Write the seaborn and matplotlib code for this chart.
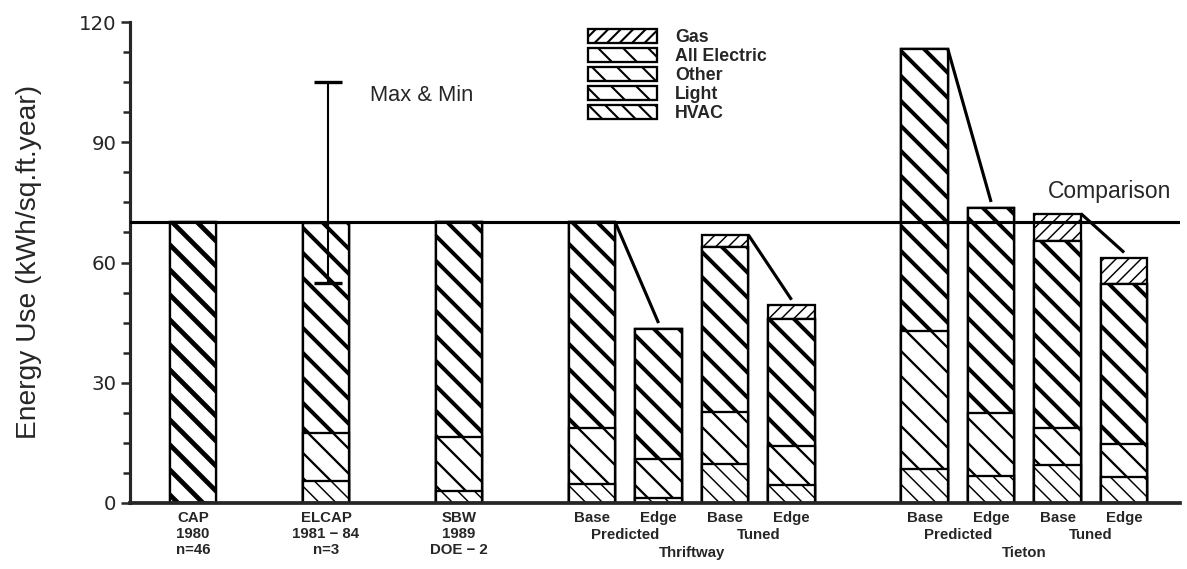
import numpy as np
import pandas as pd
import matplotlib
matplotlib.use("Agg")
import matplotlib.pyplot as plt
import matplotlib.transforms as mtransforms
from matplotlib.patches import Patch
from matplotlib.ticker import MultipleLocator
import seaborn as sns

# ---------------- data ----------------
bar_names = ["CAP", "ELCAP", "SBW",
             "Thriftway Base Predicted", "Thriftway Edge Predicted",
             "Thriftway Base Tuned", "Thriftway Edge Tuned",
             "Tieton Base Predicted", "Tieton Edge Predicted",
             "Tieton Base Tuned", "Tieton Edge Tuned"]
hvac         = [0.0, 5.5, 3.0, 4.8, 1.2, 9.8, 4.5, 8.5, 6.8, 9.6, 6.5]
light        = [0.0, 12.0, 13.4, 14.0, 9.8, 12.8, 9.8, 34.3, 15.6, 9.0, 8.3]
other        = [0.0, 52.4, 53.6, 51.2, 32.5, 41.3, 31.5, 70.4, 51.3, 46.8, 39.8]
all_electric = [70.0, 0, 0, 0, 0, 0, 0, 0, 0, 0, 0]
gas          = [0, 0, 0, 0, 0, 3.0, 3.5, 0, 0, 6.8, 6.5]
comparison_value = 70
elcap_min, elcap_max = 55, 105

tick_labels = ["CAP\n1980\nn=46", "ELCAP\n1981 \u2212 84\nn=3", "SBW\n1989\nDOE \u2212 2",
               "Base", "Edge", "Base", "Edge", "Base", "Edge", "Base", "Edge"]
scenario_labels = ["Predicted", "Tuned", "Predicted", "Tuned"]
building_labels = ["Thriftway", "Tieton"]
legend_labels = ["Gas", "All Electric", "Other", "Light", "HVAC"]

# ---------------- layout ----------------
bar_pos = np.array([0, 2, 4, 6, 7, 8, 9, 11, 12, 13, 14], dtype=float)
bar_w = 0.7

sns.set_style("ticks")
plt.rcParams["font.family"] = ["Liberation Sans", "DejaVu Sans"]
plt.rcParams["hatch.color"] = "black"

DPI = 150
fig = plt.figure(figsize=(1187 / DPI, 569 / DPI), dpi=DPI)
ax = fig.add_axes([130 / 1187, 1 - 503 / 569, 1050 / 1187, 485 / 569])

c1 = np.array(hvac)
c2 = c1 + np.array(light)
c3 = c2 + np.array(other)
c4 = c3 + np.array(all_electric)
c5 = c4 + np.array(gas)

styles = {  # hatch, hatch linewidth
    "Gas": ("////", 0.7),
    "All Electric": ("\\\\", 2.3),
    "Other": ("\\\\", 1.9),
    "Light": ("\\\\", 1.1),
    "HVAC": ("\\\\\\", 0.7),
}
layers = [(c5, "Gas"), (c4, "All Electric"), (c3, "Other"), (c2, "Light"), (c1, "HVAC")]
for tops, name in layers:
    hatch, hlw = styles[name]
    n0 = len(ax.patches)
    df = pd.DataFrame({"pos": bar_pos, "val": tops})
    sns.barplot(data=df, x="pos", y="val", native_scale=True, width=bar_w,
                color="white", edgecolor="black", linewidth=1.1, hatch=hatch,
                errorbar=None, saturation=1, ax=ax)
    for p in ax.patches[n0:]:
        p.set_facecolor("white")
        if hasattr(p, "set_hatch_linewidth"):
            p.set_hatch_linewidth(hlw)

# comparison line
ax.axhline(comparison_value, color="black", lw=1.5, zorder=5)
ax.text(12.86, 77.7, "Comparison", fontsize=11, va="center", ha="left")

# ELCAP max & min
ex = bar_pos[1] + 0.03
ax.errorbar([ex], [(elcap_min + elcap_max) / 2], yerr=[[(elcap_max - elcap_min) / 2]],
            fmt="none", ecolor="black", elinewidth=1.0, capsize=6.5, capthick=1.6, zorder=6)
ax.text(2.66, 101.6, "Max & Min", fontsize=10.5, va="center", ha="left")

# connector lines base -> edge
for b, e in [(3, 4), (5, 6), (7, 8), (9, 10)]:
    ax.plot([bar_pos[b] + bar_w / 2, bar_pos[e]], [c5[b], c5[e] + 1.4],
            color="black", lw=1.5, solid_capstyle="butt", zorder=6)

# axes styling
ax.set_xlim(-0.947, 14.84)
ax.set_ylim(0, 121)
ax.set_xlabel("")
ax.set_ylabel("")
ax.set_yticks([0, 30, 60, 90, 120])
ax.yaxis.set_minor_locator(MultipleLocator(7.5))
ax.tick_params(axis="y", which="major", direction="out", length=4.5, width=1.2,
               labelsize=9.5, pad=2)
ax.tick_params(axis="y", which="minor", direction="out", length=3.5, width=1.2)
for lab in ax.get_yticklabels():
    lab.set_fontfamily("DejaVu Sans")
ax.set_xticks(bar_pos)
ax.set_xticklabels(tick_labels, fontsize=7.2, fontweight="bold", linespacing=1.15)
ax.tick_params(axis="x", length=0, pad=4)
for s in ["top", "right"]:
    ax.spines[s].set_visible(False)
ax.spines["left"].set_linewidth(1.5)
ax.spines["bottom"].set_linewidth(1.8)
ax.spines["left"].set_bounds(0, 120)

trans = mtransforms.blended_transform_factory(ax.transData, ax.transAxes)
row2 = -(535 - 503) / 485
row3 = -(553 - 503) / 485
for (a, b), lab in zip([(3, 4), (5, 6), (7, 8), (9, 10)], scenario_labels):
    ax.text((bar_pos[a] + bar_pos[b]) / 2, row2, lab, transform=trans, ha="center",
            va="center", fontsize=7.2, fontweight="bold")
for (a, b), lab in zip([(3, 6), (7, 10)], building_labels):
    ax.text((bar_pos[a] + bar_pos[b]) / 2, row3, lab, transform=trans, ha="center",
            va="center", fontsize=7.2, fontweight="bold")

# y label
fig.text(29 / 1187, 1 - 262 / 569, "Energy Use (kWh/sq.ft.year)", rotation=90,
         ha="center", va="center", fontsize=13.5)

# legend
handles = []
for name in legend_labels:
    hatch, hlw = styles[name]
    h = Patch(facecolor="white", edgecolor="black", hatch=hatch, linewidth=1.1)
    if hasattr(h, "set_hatch_linewidth"):
        h.set_hatch_linewidth(hlw)
    handles.append(h)
leg = ax.legend(handles, legend_labels, loc="upper left",
                bbox_to_anchor=(588 / 1187, 1 - 29 / 569), bbox_transform=fig.transFigure,
                frameon=False, borderpad=0, borderaxespad=0,
                handlelength=3.9, handleheight=0.85, labelspacing=0.1,
                handletextpad=1.0, prop={"size": 8.5, "weight": "bold"})

fig.savefig("out.png", dpi=DPI)
